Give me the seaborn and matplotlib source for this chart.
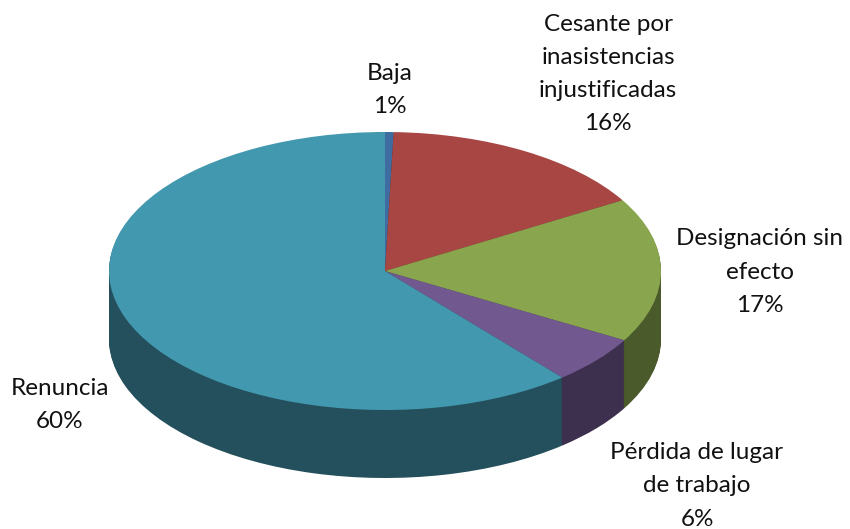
import matplotlib
matplotlib.use("Agg")
import matplotlib.pyplot as plt
import seaborn as sns

# Data
categories = ["Baja", "Cesante por\ninasistencias\ninjustificadas", "Designación sin\nefecto",
              "Pérdida de lugar\nde trabajo", "Renuncia"]
values = [0.5, 16.0, 16.8, 5.6, 61.1]
pct_labels = ["1%", "16%", "17%", "6%", "60%"]
top_colors = ["#3F6CA1", "#A84644", "#89A54E", "#71588F", "#4298AF"]
side_colors = ["#243E5C", "#5F2827", "#4A5A2A", "#3D2F4E", "#244F5C"]

sns.set_theme(style="white")
plt.rcParams["font.family"] = ["Lato", "DejaVu Sans"]

W, H = 850, 529
cx, cy = 385, 271     # centre of the top face in pixels
rx, ry = 276, 139     # radii of the ellipse
depth = 68            # pie thickness in pixels

fig = plt.figure(figsize=(W / 100, H / 100), dpi=100)
ax = fig.add_axes([0, 0, 1, 1])

# the side is a stack of dark pies, top face goes last
for d in range(depth, 0, -1):
    ax.pie(values, colors=side_colors, startangle=90, counterclock=False,
           center=(0, -d / ry), radius=1, wedgeprops={"linewidth": 0})
ax.pie(values, colors=top_colors, startangle=90, counterclock=False,
       center=(0, 0), radius=1, wedgeprops={"linewidth": 0})

ax.set_aspect("auto")
ax.set_xlim(-cx / rx, (W - cx) / rx)
ax.set_ylim(-(H - cy) / ry, cy / ry)
ax.axis("off")

# label centres in pixels
label_pos = [(390, 90), (608, 74), (760, 272), (697, 486), (60, 405)]
for name, pct, (px, py) in zip(categories, pct_labels, label_pos):
    ax.text((px - cx) / rx, (cy - py) / ry, name + "\n" + pct, ha="center", va="center",
            fontsize=17.5, color="#111111", linespacing=1.71)

fig.savefig("out.png", dpi=100)
